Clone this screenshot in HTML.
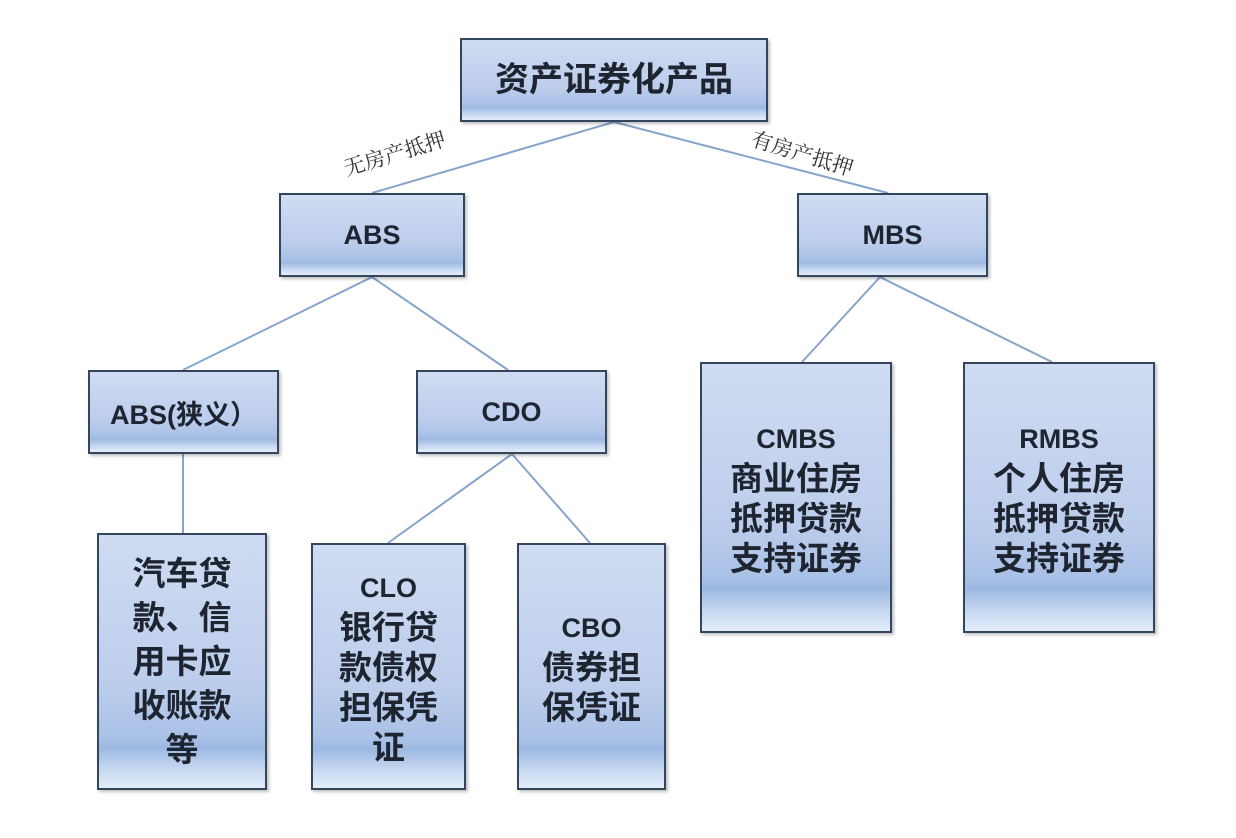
<!DOCTYPE html>
<html><head><meta charset="utf-8"><style>
body{margin:0;width:1236px;height:838px;background:#fff;position:relative;overflow:hidden;}
.b{position:absolute;box-sizing:border-box;border:2.5px solid #34465e;
background:linear-gradient(to bottom,#cfdcf2 0%,#bccdec 60%,#a9c1e6 80%,#9cb8e2 84%,#c4d6f0 92%,#e3edf9 100%);
box-shadow:2px 2px 3px rgba(0,0,0,0.25);
display:flex;align-items:center;justify-content:center;text-align:center;
font-family:"Liberation Sans","Noto Sans CJK SC",sans-serif;color:#1e2430;}
.e{font-weight:bold;font-size:27px;}
.c{font-size:33px;line-height:40px;font-weight:bold;}
.l{position:absolute;font-family:"Liberation Serif","Noto Serif CJK SC",serif;font-size:21px;color:#333;white-space:nowrap;}
</style></head><body>
<svg width="1236" height="838" style="position:absolute;left:0;top:0">
<g stroke="#86a3cc" stroke-width="2" fill="none">
<line x1="614" y1="122" x2="372" y2="193"/>
<line x1="614" y1="122" x2="888" y2="193"/>
<line x1="372" y1="277" x2="183" y2="370"/>
<line x1="372" y1="277" x2="508" y2="370"/>
<line x1="880" y1="277" x2="802" y2="362"/>
<line x1="880" y1="277" x2="1052" y2="362"/>
<line x1="183" y1="454" x2="183" y2="533"/>
<line x1="512" y1="454" x2="388" y2="543"/>
<line x1="512" y1="454" x2="590" y2="543"/>
</g></svg>
<div class="l" style="left:342px;top:138px;transform:rotate(-17deg);">无房产抵押</div>
<div class="l" style="left:750px;top:138px;transform:rotate(17deg);">有房产抵押</div>
<div class="b" style="left:460px;top:38px;width:308px;height:84px;"><span class="c" style="font-size:34px">资产证券化产品</span></div>
<div class="b" style="left:279px;top:193px;width:186px;height:84px;"><span class="e">ABS</span></div>
<div class="b" style="left:797px;top:193px;width:191px;height:84px;"><span class="e">MBS</span></div>
<div class="b" style="left:88px;top:370px;width:191px;height:84px;"><span class="e" style="font-size:27px">ABS(狭义）</span></div>
<div class="b" style="left:416px;top:370px;width:191px;height:84px;"><span class="e">CDO</span></div>
<div class="b" style="left:700px;top:362px;width:192px;height:271px;"><div class="c"><span class="e">CMBS</span><br>商业住房<br>抵押贷款<br>支持证券</div></div>
<div class="b" style="left:963px;top:362px;width:192px;height:271px;"><div class="c"><span class="e">RMBS</span><br>个人住房<br>抵押贷款<br>支持证券</div></div>
<div class="b" style="left:97px;top:533px;width:170px;height:257px;"><div class="c" style="line-height:44px">汽车贷<br>款、信<br>用卡应<br>收账款<br>等</div></div>
<div class="b" style="left:311px;top:543px;width:155px;height:247px;"><div class="c"><span class="e">CLO</span><br>银行贷<br>款债权<br>担保凭<br>证</div></div>
<div class="b" style="left:517px;top:543px;width:149px;height:247px;"><div class="c"><span class="e">CBO</span><br>债券担<br>保凭证</div></div>
</body></html>
